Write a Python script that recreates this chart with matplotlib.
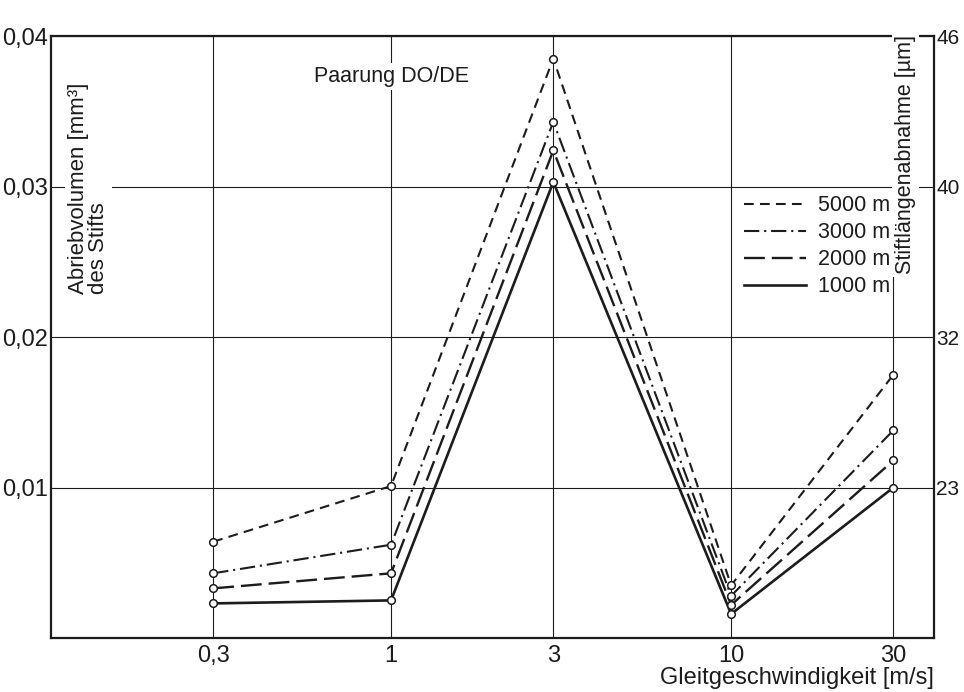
import matplotlib
matplotlib.use("Agg")
import matplotlib.pyplot as plt

plt.rcParams['font.family'] = ['Liberation Sans', 'DejaVu Sans']
plt.rcParams['lines.scale_dashes'] = False

# Gleitgeschwindigkeit [m/s]
speeds = [0.3, 1, 3, 10, 30]
# Abriebvolumen [mm^3] je Gleitweg
v5000 = [0.0064, 0.0101, 0.0385, 0.0035, 0.0175]
v3000 = [0.0043, 0.0062, 0.0343, 0.0028, 0.0138]
v2000 = [0.0033, 0.0043, 0.0324, 0.0022, 0.0118]
v1000 = [0.0023, 0.0025, 0.0303, 0.0016, 0.0100]

x_ticks = [0.3, 1, 3, 10, 30]
x_labels = ["0,3", "1", "3", "10", "30"]
y_ticks = [0.01, 0.02, 0.03, 0.04]
y_labels = ["0,01", "0,02", "0,03", "0,04"]
y2_labels = ["23", "32", "40", "46"]

ink = "#1c1c1c"

fig = plt.figure(figsize=(9.64, 6.92), dpi=100)
ax = fig.add_axes([0.0529, 0.0780, 0.9160, 0.8699])

ax.set_xscale("log")
ax.set_xlim(0.1, 39.5)
ax.set_ylim(0, 0.04)
ax.minorticks_off()

ax.set_xticks(x_ticks)
ax.set_xticklabels(x_labels)
ax.set_yticks(y_ticks)
ax.set_yticklabels(y_labels)
ax.tick_params(length=0, labelsize=17, colors=ink)
ax.tick_params(axis="x", pad=5)
ax.tick_params(axis="y", pad=2)
ax.grid(True, color=ink, lw=0.8)
ax.set_axisbelow(True)
for s in ax.spines.values():
    s.set_linewidth(1.6)
    s.set_color(ink)

series = [
    (v5000, "5000 m", (0, (7, 4.5)), 1.5),
    (v3000, "3000 m", (0, (11, 3.5, 1.5, 3.5)), 1.5),
    (v2000, "2000 m", (0, (15, 5)), 1.7),
    (v1000, "1000 m", "-", 1.9),
]
for vals, lab, ls, lw in series:
    ax.plot(speeds, vals, color=ink, ls=ls, lw=lw, label=lab, zorder=3)
    ax.plot(speeds, vals, "o", ms=5.5, mfc="white", mec=ink, mew=1.1, zorder=4)

leg = ax.legend(loc="upper left", bbox_to_anchor=(0.775, 0.75), frameon=False,
                fontsize=15.5, handlelength=2.9, handletextpad=0.55, labelspacing=0.28,
                borderaxespad=0)
for t in leg.get_texts():
    t.set_color(ink)

# rechte Achse: Stiftlängenabnahme
ax2 = ax.twinx()
ax2.set_ylim(ax.get_ylim())
ax2.set_yticks(y_ticks)
ax2.set_yticklabels(y2_labels)
ax2.tick_params(length=0, labelsize=15, colors=ink, pad=1.5)
for s in ax2.spines.values():
    s.set_visible(False)

box = dict(facecolor="white", edgecolor="none", pad=2)
ax.text(0.019, 0.571, "Abriebvolumen [mm³]\ndes Stifts", transform=ax.transAxes,
        rotation=90, ha="left", va="bottom", multialignment="left",
        fontsize=16, color=ink, linespacing=0.95, bbox=box, zorder=5)
ax.text(0.968, 0.605, "Stiftlängenabnahme [µm]", transform=ax.transAxes,
        rotation=90, ha="center", va="bottom", fontsize=15.5, color=ink,
        bbox=box, zorder=5)
ax.text(1, 0.0373, "Paarung DO/DE", ha="center", va="center", fontsize=15.5,
        color=ink, bbox=box, zorder=5)

ax.set_xlabel("Gleitgeschwindigkeit [m/s]", loc="right", fontsize=17,
              color=ink, labelpad=0)

fig.savefig("out.png", dpi=100)
